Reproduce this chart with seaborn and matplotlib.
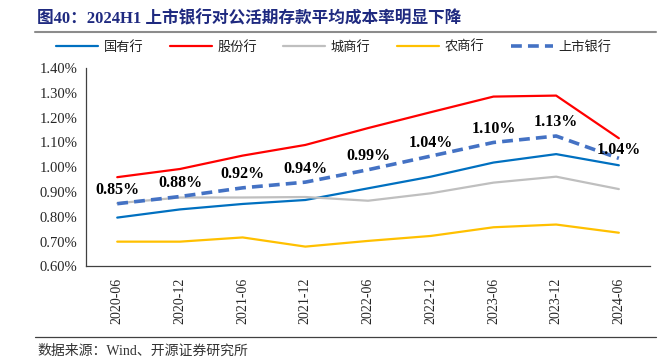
import numpy as np
import pandas as pd
import matplotlib
matplotlib.use("Agg")
import matplotlib.pyplot as plt
import seaborn as sns
from matplotlib.lines import Line2D
from matplotlib.ticker import FuncFormatter, FixedLocator

periods = ['2020-06', '2020-12', '2021-06', '2021-12', '2022-06',
           '2022-12', '2023-06', '2023-12', '2024-06']
state_banks = [0.797, 0.830, 0.852, 0.868, 0.915, 0.962, 1.019, 1.053, 1.008]
joint_stock = [0.960, 0.993, 1.047, 1.090, 1.158, 1.222, 1.285, 1.289, 1.117]
city_banks = [0.855, 0.878, 0.878, 0.880, 0.865, 0.895, 0.938, 0.962, 0.912]
rural_banks = [0.700, 0.700, 0.717, 0.680, 0.703, 0.723, 0.758, 0.769, 0.736]
listed_banks = [0.853, 0.882, 0.917, 0.940, 0.990, 1.045, 1.100, 1.126, 1.036]

series_names = ['国有行', '股份行', '城商行', '农商行', '上市银行']
series_values = [state_banks, joint_stock, city_banks, rural_banks, listed_banks]
colors = ['#0070C0', '#FF0000', '#BFBFBF', '#FFC000', '#4472C4']

sns.set_style("white")
plt.rcParams['font.family'] = ['Liberation Serif', 'Noto Sans CJK SC']

fig = plt.figure(figsize=(6.71, 3.64), dpi=100)
ax = fig.add_axes([0.128, 0.268, 0.841, 0.545])

for name, vals, col in zip(series_names, series_values, colors):
    if name == '上市银行':
        sns.lineplot(x=periods, y=vals, ax=ax, color=col, linewidth=2.6,
                     linestyle=(0, (3.0, 1.7)), label=name, zorder=5)
    else:
        sns.lineplot(x=periods, y=vals, ax=ax, color=col, linewidth=1.6,
                     label=name, zorder=3)

# data labels for listed banks
for i, v in enumerate(listed_banks):
    off = 0 if i == len(listed_banks) - 1 else 4
    ax.annotate(f"{v:.2f}%", (i, v), xytext=(0, off), textcoords='offset points',
                ha='center', va='bottom', fontsize=11.5, fontweight='bold',
                family='Liberation Serif', color='black', zorder=6)

ax.set_xlim(-0.5, len(periods) - 0.5)
ax.set_ylim(0.60, 1.40)
ax.set_yticks(np.arange(0.60, 1.401, 0.10))
ax.yaxis.set_major_formatter(FuncFormatter(lambda v, p: f"{v:.2f}%"))
ax.set_xticks(range(len(periods)))
ax.set_xticklabels(periods, rotation=90, fontsize=10, family='Liberation Serif')
ax.xaxis.set_minor_locator(FixedLocator(np.arange(0.5, len(periods), 1.0)))
ax.tick_params(axis='x', which='major', length=0, pad=8)
ax.tick_params(axis='x', which='minor', length=4, direction='in', color='#404040', width=0.8)
ax.tick_params(axis='y', which='major', length=3, direction='out', color='#404040',
               width=0.8, labelsize=10.5, pad=3)
for lab in ax.get_yticklabels():
    lab.set_family('Liberation Serif')
ax.set_xlabel('')
ax.set_ylabel('')
for s in ['top', 'right']:
    ax.spines[s].set_visible(False)
for s in ['left', 'bottom']:
    ax.spines[s].set_color('#404040')
    ax.spines[s].set_linewidth(0.9)

handles, labels = ax.get_legend_handles_labels()
ax.get_legend().remove()
leg = fig.legend(handles, labels, loc='center', bbox_to_anchor=(0.497, 1 - 47 / 364),
                 ncol=5, frameon=False, handlelength=3.2, columnspacing=2.0,
                 handletextpad=0.4, prop={'family': 'Noto Sans CJK SC', 'size': 9.5})
for t in leg.get_texts():
    t.set_color('#222222')

fig.text(37 / 671, 1 - 19 / 364, '图40：2024H1 上市银行对公活期存款平均成本率明显下降',
         ha='left', va='center', fontsize=12, fontweight='bold', color='#1F2A80',
         family=['Liberation Serif', 'Noto Sans CJK SC'])
fig.add_artist(Line2D([35 / 671, 656 / 671], [1 - 32 / 364, 1 - 32 / 364],
                      transform=fig.transFigure, color='#8C8C8C', linewidth=1.5))
fig.add_artist(Line2D([35 / 671, 656 / 671], [1 - 337 / 364, 1 - 337 / 364],
                      transform=fig.transFigure, color='#404040', linewidth=0.9))
fig.text(37 / 671, 1 - 351 / 364, '数据来源：Wind、开源证券研究所', ha='left', va='center',
         fontsize=10, color='#333333', family=['Liberation Serif', 'Noto Sans CJK SC'])

fig.savefig('out.png', dpi=100)
